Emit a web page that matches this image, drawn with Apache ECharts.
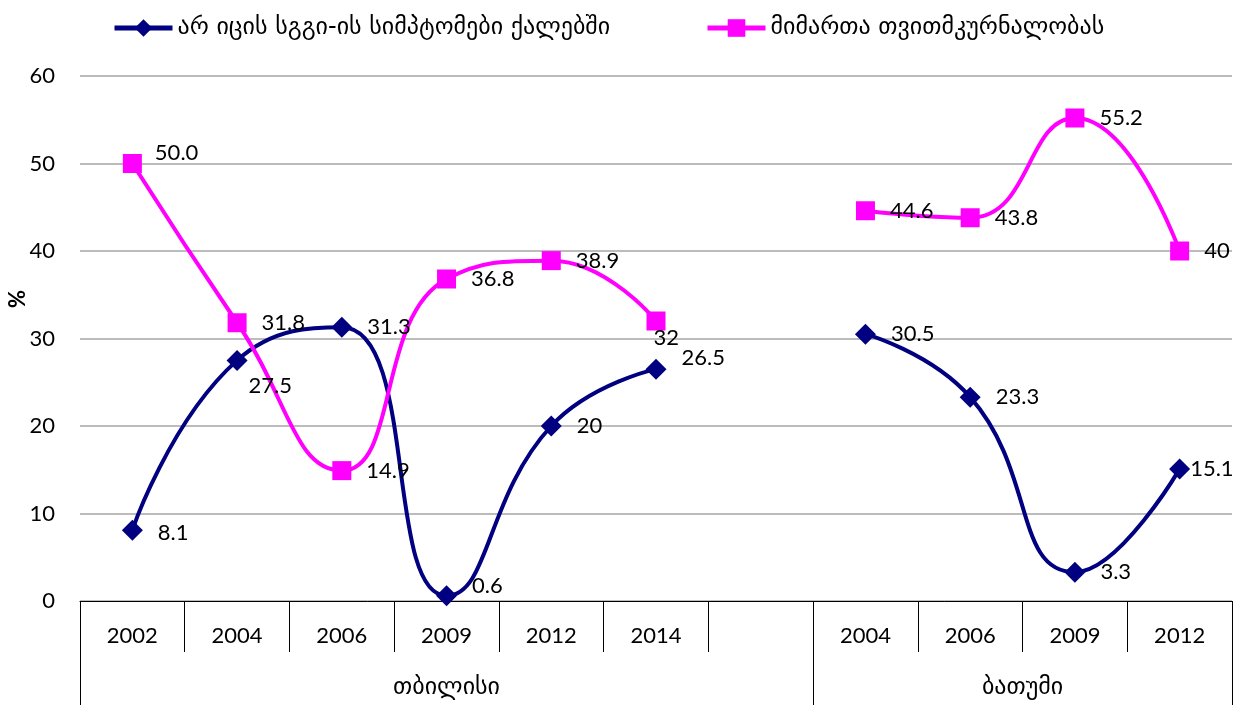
<!DOCTYPE html>
<html>
<head>
<meta charset="utf-8">
<script src="https://cdn.jsdelivr.net/npm/echarts@6/dist/echarts.min.js"></script>
<style>
  html, body { margin: 0; padding: 0; background: #fff; }
  #draw { width: 1247px; height: 705px; }
</style>
</head>
<body>
<div id="draw"></div>
<script>
  // data
  var categories = ['2002', '2004', '2006', '2009', '2012', '2014', '', '2004', '2006', '2009', '2012']
  var groups = ['თბილისი', 'ბათუმი']
  var groupSpans = [7, 4]
  var seriesNames = ['არ იცის სგგი-ის სიმპტომები ქალებში', 'მიმართა თვითმკურნალობას']
  var notAware = [8.1, 27.5, 31.3, 0.6, 20, 26.5, null, 30.5, 23.3, 3.3, 15.1]
  var notAwareLabels = ['8.1', '27.5', '31.3', '0.6', '20', '26.5', '', '30.5', '23.3', '3.3', '15.1']
  var selfTreat = [50.0, 31.8, 14.9, 36.8, 38.9, 32, null, 44.6, 43.8, 55.2, 40]
  var selfTreatLabels = ['50.0', '31.8', '14.9', '36.8', '38.9', '32', '', '44.6', '43.8', '55.2', '40']
  var yMin = 0
  var yMax = 60
  var yStep = 10

  var numFont = 'Lato, "Liberation Sans", sans-serif'
  var geoFont = '"DejaVu Sans", sans-serif'

  // group boundaries / centres on the second level axis
  var bounds = [0]
  var centres = []
  groupSpans.forEach(function (n, i) {
    centres.push(bounds[i] + n / 2)
    bounds.push(bounds[i] + n)
  })

  // label nudges (layout only)
  var nudgeA = { 0: [0, 3], 1: [-14, 26], 3: [0, -10], 5: [0, -11], 10: [-15, 0] }
  var nudgeB = { 0: [-2, -11], 5: [-27, 17] }

  function buildData (values, nudge) {
    return values.map(function (v, i) {
      var item = { value: v }
      if (nudge[i]) item.label = { offset: nudge[i] }
      return item
    })
  }

  function makeSeries (name, values, labels, nudge, color, symbol) {
    return {
      name: name,
      type: 'line',
      smooth: 0.5,
      connectNulls: false,
      symbol: symbol,
      symbolSize: symbol === 'diamond' ? 21 : 19,
      lineStyle: { width: 4, color: color },
      itemStyle: { color: color },
      label: {
        show: true,
        position: 'right',
        distance: 15,
        color: '#000',
        fontSize: 22,
        fontFamily: numFont,
        formatter: function (p) { return labels[p.dataIndex] }
      },
      emphasis: { disabled: true },
      data: buildData(values, nudge)
    }
  }

  function makeLegend (name, left) {
    return {
      data: [name],
      left: left,
      top: 11,
      itemWidth: 58,
      itemHeight: 22,
      lineStyle: { width: 5 },
      textStyle: { fontSize: 24, fontFamily: geoFont, color: '#000' }
    }
  }

  var myChart = echarts.init(document.getElementById('draw'))
  myChart.setOption({
    animation: false,
    backgroundColor: '#fff',
    legend: [makeLegend(seriesNames[0], 107), makeLegend(seriesNames[1], 700)],
    grid: {
      left: 80,
      right: 15,
      top: 76,
      bottom: 104,
      containLabel: false,
      outerBoundsMode: 'none'
    },
    xAxis: [{
      type: 'category',
      data: categories,
      boundaryGap: true,
      axisLine: { lineStyle: { color: '#000', width: 1 } },
      axisTick: { show: true, interval: 0, length: 51, lineStyle: { color: '#000' } },
      axisLabel: { interval: 0, margin: 24, fontSize: 22, fontFamily: numFont, color: '#000' },
      splitLine: { show: false }
    }, {
      type: 'value',
      position: 'bottom',
      min: 0,
      max: categories.length,
      axisLine: { show: false },
      axisTick: { show: true, customValues: bounds, length: 104, lineStyle: { color: '#000' } },
      axisLabel: {
        customValues: centres,
        margin: 75,
        fontSize: 24,
        fontFamily: geoFont,
        color: '#000',
        formatter: function (v) { return groups[centres.indexOf(v)] }
      },
      splitLine: { show: false }
    }],
    yAxis: {
      type: 'value',
      min: yMin,
      max: yMax,
      interval: yStep,
      axisLine: { show: false },
      axisTick: { show: false },
      axisLabel: { margin: 25, fontSize: 22, fontFamily: numFont, color: '#000' },
      splitLine: { lineStyle: { color: '#a6a6a6', width: 1.5 } }
    },
    graphic: [{
      type: 'text',
      x: 18,
      y: 299,
      rotation: Math.PI / 2,
      style: {
        text: '%',
        fontSize: 22,
        fontWeight: 'bold',
        fontFamily: numFont,
        fill: '#000',
        align: 'center',
        verticalAlign: 'middle'
      }
    }],
    series: [
      makeSeries(seriesNames[0], notAware, notAwareLabels, nudgeA, '#000080', 'diamond'),
      makeSeries(seriesNames[1], selfTreat, selfTreatLabels, nudgeB, '#ff00ff', 'rect')
    ]
  })
</script>
</body>
</html>
